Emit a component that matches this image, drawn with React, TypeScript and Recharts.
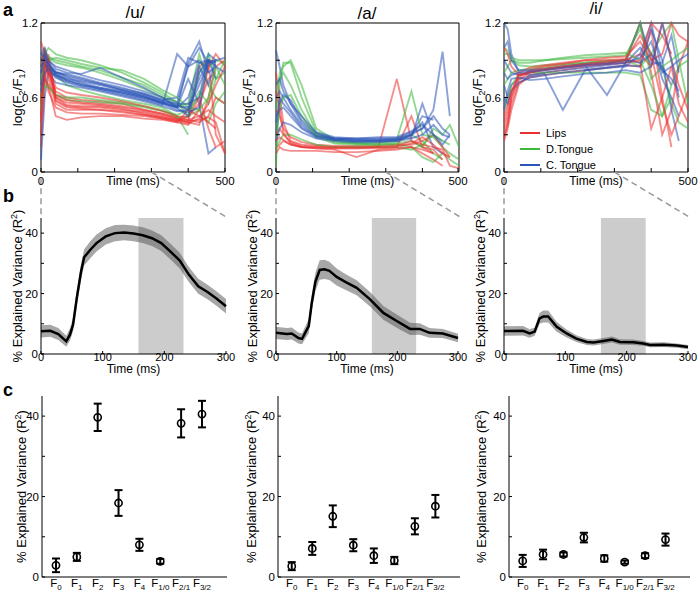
import React from 'react';
import {
  LineChart,
  Line,
  XAxis,
  YAxis,
  ReferenceArea,
  ReferenceLine,
  Legend,
  ComposedChart,
  Area,
  ScatterChart,
  Scatter,
  ErrorBar,
} from 'recharts';

const FONT = '"Liberation Sans", Arial, sans-serif';

const LIPS = '#ec2f2f';
const DORSAL = '#3db83d';
const CORONAL = '#2b56b8';

// ---- panel a: log(F2/F1) trajectories, sampled at these times (ms)
const T = [0, 10, 20, 40, 70, 110, 160, 220, 280, 330, 370, 400, 430, 455, 475, 500];

type Traj = (number | null)[];

const uLips: Traj[] = [
  [1.05, 0.95, 0.8, 0.65, 0.6, 0.58, 0.57, 0.55, 0.5, 0.47, 0.44, 0.42, 0.45, 0.5, 0.45, 0.4],
  [0.3, 0.85, 0.9, 0.6, 0.56, 0.55, 0.54, 0.52, 0.49, 0.46, 0.43, 0.4, 0.85, 0.9, 0.3, 0.15],
  [0.2, 0.7, 0.95, 0.58, 0.53, 0.52, 0.52, 0.5, 0.48, 0.45, 0.42, 0.4, 0.38, 0.6, 0.85, 0.9],
  [0.7, 0.9, 0.75, 0.55, 0.5, 0.5, 0.5, 0.49, 0.46, 0.44, 0.41, 0.45, 0.55, 0.75, 0.8, null],
  [0.45, 0.8, 0.65, 0.52, 0.48, 0.47, 0.47, 0.46, 0.45, 0.43, 0.4, 0.38, 0.5, 0.85, 0.95, 0.85],
  [0.9, 1.0, 0.85, 0.68, 0.64, 0.62, 0.6, 0.57, 0.53, 0.49, 0.45, 0.44, 0.6, 0.35, 0.2, 0.25],
  [0.6, 0.75, 0.7, 0.45, 0.42, 0.44, 0.45, 0.45, 0.43, 0.42, 0.4, 0.5, 0.45, 0.4, 0.35, null],
  [0.85, 0.95, 0.9, 0.62, 0.58, 0.56, 0.55, 0.53, 0.5, 0.47, 0.43, 0.42, 0.4, 0.45, 0.6, 0.55],
  [0.55, 0.85, 0.8, 0.6, 0.54, 0.53, 0.53, 0.51, 0.47, 0.44, 0.42, 0.41, 0.42, 0.44, 0.4, 0.15],
  [0.4, 0.9, 0.85, 0.57, 0.52, 0.51, 0.5, 0.48, 0.46, 0.43, 0.41, 0.39, 0.43, 0.55, 0.7, 0.85],
];
const uDorsal: Traj[] = [
  [0.85, 0.95, 1.0, 0.95, 0.92, 0.9, 0.86, 0.8, 0.72, 0.64, 0.56, 0.5, 0.6, 0.85, 0.9, 0.88],
  [0.7, 0.9, 0.92, 0.88, 0.86, 0.84, 0.8, 0.74, 0.67, 0.6, 0.53, 0.55, 0.95, 0.7, 0.6, 0.55],
  [0.5, 0.8, 0.85, 0.78, 0.7, 0.66, 0.62, 0.58, 0.55, 0.52, 0.45, 0.3, null, null, null, null],
  [0.6, 0.75, 0.7, 0.62, 0.58, 0.57, 0.56, 0.55, 0.52, 0.49, 0.46, 0.5, 0.8, 0.95, 0.75, 0.8],
  [0.9, 0.98, 0.93, 0.9, 0.88, 0.85, 0.82, 0.76, 0.7, 0.62, 0.56, 0.45, 0.5, 0.4, 0.55, 0.65],
  [0.55, 0.7, 0.68, 0.62, 0.6, 0.6, 0.58, 0.56, 0.53, 0.5, 0.44, 0.45, 0.65, 0.55, 0.75, 0.9],
  [0.75, 0.88, 0.9, 0.92, 0.9, 0.87, 0.84, 0.82, 0.75, 0.66, 0.6, 0.52, 0.5, 0.6, 0.85, 0.7],
];
const uCoronal: Traj[] = [
  [0.75, 0.95, 0.9, 0.85, 0.82, 0.78, 0.74, 0.7, 0.65, 0.6, 0.56, 0.85, 1.0, 0.88, 0.9, null],
  [0.9, 0.92, 0.85, 0.8, 0.76, 0.72, 0.68, 0.64, 0.6, 0.56, 0.52, 0.6, 0.88, 0.85, null, null],
  [0.1, 0.6, 0.8, 0.78, 0.74, 0.71, 0.67, 0.63, 0.59, 0.55, 0.52, 0.75, 0.55, 0.15, 0.2, null],
  [0.85, 0.9, 0.82, 0.76, 0.72, 0.69, 0.66, 0.62, 0.58, 0.54, 0.95, 0.85, 0.9, 0.8, 0.85, null],
  [0.8, 0.88, 0.8, 0.72, 0.7, 0.68, 0.65, 0.61, 0.57, 0.53, 0.49, 0.5, 0.7, 0.88, 0.9, 0.92],
  [0.7, 0.85, 0.86, 0.8, 0.79, 0.76, 0.72, 0.68, 0.63, 0.58, 0.6, 0.92, 0.88, 0.9, 0.75, null],
  [0.95, 1.0, 0.9, 0.83, 0.8, 0.79, 0.84, 0.76, 0.68, 0.6, 0.52, 0.45, 0.8, 0.9, 0.86, null],
  [0.85, 0.9, 0.84, 0.78, 0.75, 0.73, 0.7, 0.66, 0.62, 0.57, 0.55, 0.55, 0.6, 0.95, 0.9, null],
  [0.8, 0.92, 0.87, 0.81, 0.77, 0.74, 0.71, 0.67, 0.63, 0.58, 0.54, 0.5, 0.75, 0.9, 0.88, null],
  [0.9, 0.96, 0.88, 0.79, 0.74, 0.7, 0.67, 0.64, 0.6, 0.56, 0.53, 0.52, 0.85, 0.7, 0.9, null],
  [0.65, 0.8, 0.83, 0.77, 0.73, 0.7, 0.68, 0.65, 0.61, 0.56, 0.52, 0.88, 1.05, 0.8, null, null],
  [0.95, 0.93, 0.86, 0.8, 0.78, 0.75, 0.71, 0.66, 0.61, 0.55, 0.5, 0.48, 0.52, 0.9, 0.85, 0.8],
];

const aLips: Traj[] = [
  [0.8, 0.6, 0.4, 0.25, 0.22, 0.21, 0.2, 0.2, 0.2, 0.75, 0.25, 0.2, 0.15, null, null, null],
  [0.2, 0.22, 0.25, 0.22, 0.2, 0.19, 0.19, 0.19, 0.19, 0.2, 0.45, 0.2, 0.18, 0.1, null, null],
  [0.5, 0.45, 0.35, 0.28, 0.24, 0.22, 0.21, 0.21, 0.21, 0.22, 0.22, 0.25, 0.3, 0.2, 0.12, null],
  [0.15, 0.2, 0.18, 0.17, 0.17, 0.17, 0.16, 0.16, 0.17, 0.18, 0.2, 0.15, 0.1, 0.05, null, null],
  [0.3, 0.35, 0.3, 0.24, 0.21, 0.2, 0.2, 0.2, 0.2, 0.21, 0.25, 0.22, 0.2, 0.18, 0.05, 0.03],
  [0.65, 0.5, 0.32, 0.23, 0.2, 0.19, 0.18, 0.12, 0.18, 0.19, 0.2, 0.18, 0.15, null, null, null],
  [0.25, 0.28, 0.26, 0.22, 0.2, 0.2, 0.19, 0.19, 0.2, 0.2, 0.23, 0.28, 0.22, 0.15, 0.12, null],
];
const aDorsal: Traj[] = [
  [0.05, 0.7, 0.88, 0.88, 0.6, 0.32, 0.25, 0.23, 0.23, 0.24, 0.3, 0.25, 0.15, 0.1, null, null],
  [0.5, 0.8, 0.85, 0.9, 0.7, 0.35, 0.26, 0.24, 0.24, 0.26, 0.65, 0.3, 0.28, 0.2, 0.15, 0.1],
  [0.7, 0.75, 0.8, 0.7, 0.5, 0.3, 0.24, 0.23, 0.22, 0.23, 0.25, 0.2, 0.35, 0.3, 0.38, 0.2],
  [0.3, 0.5, 0.6, 0.62, 0.45, 0.28, 0.23, 0.22, 0.22, 0.22, 0.2, 0.12, 0.08, 0.15, 0.1, 0.05],
  [0.2, 0.25, 0.3, 0.3, 0.26, 0.22, 0.2, 0.2, 0.2, 0.2, 0.18, 0.22, 0.3, 0.25, 0.22, null],
];
const aCoronal: Traj[] = [
  [0.98, 0.85, 0.7, 0.55, 0.4, 0.3, 0.27, 0.26, 0.26, 0.27, 0.3, 0.45, 0.42, null, null, null],
  [0.6, 0.65, 0.6, 0.5, 0.38, 0.29, 0.26, 0.25, 0.25, 0.26, 0.3, 0.35, 0.5, 0.97, 0.45, null],
  [0.3, 0.55, 0.62, 0.58, 0.42, 0.31, 0.27, 0.26, 0.26, 0.26, 0.28, 0.55, 0.3, 0.25, null, null],
  [0.45, 0.5, 0.52, 0.45, 0.35, 0.28, 0.26, 0.25, 0.25, 0.25, 0.3, 0.4, 0.2, 0.15, null, null],
  [0.7, 0.75, 0.65, 0.55, 0.45, 0.32, 0.28, 0.27, 0.27, 0.27, 0.32, 0.35, 0.45, 0.35, 0.3, null],
  [0.25, 0.35, 0.4, 0.38, 0.32, 0.27, 0.25, 0.24, 0.24, 0.25, 0.27, 0.3, 0.38, 0.3, 0.28, null],
  [0.4, 0.6, 0.55, 0.48, 0.36, 0.29, 0.27, 0.27, 0.28, 0.28, 0.33, 0.38, 0.3, 0.22, 0.3, null],
];

const iLips: Traj[] = [
  [0.25, 0.35, 0.5, 0.7, 0.78, 0.8, 0.82, 0.85, 0.87, 0.9, 1.2, 0.8, 0.3, 0.5, 0.85, 1.05],
  [0.3, 0.4, 0.55, 0.72, 0.76, 0.78, 0.8, 0.82, 0.84, 0.86, 0.85, 1.15, 0.6, 0.2, null, null],
  [0.35, 0.45, 0.6, 0.74, 0.8, 0.83, 0.85, 0.87, 0.88, 0.9, 0.95, 0.85, 1.2, 0.9, 0.7, 0.5],
  [0.45, 0.55, 0.65, 0.76, 0.82, 0.85, 0.87, 0.9, 0.92, 0.93, 1.05, 0.9, 0.95, 1.2, 1.1, 1.05],
  [0.28, 0.38, 0.6, 0.8, 0.84, 0.86, 0.88, 0.9, 0.9, 0.91, 0.88, 0.35, 0.6, 0.85, 0.55, 0.4],
  [1.0, 0.95, 0.85, 0.78, 0.8, 0.82, 0.84, 0.86, 0.87, 0.88, 0.9, 1.2, 1.1, 0.95, null, null],
  [0.4, 0.5, 0.65, 0.78, 0.81, 0.83, 0.85, 0.87, 0.89, 0.9, 1.1, 0.95, 0.55, 0.3, 0.45, 0.65],
];
const iDorsal: Traj[] = [
  [0.95, 0.95, 0.9, 0.88, 0.88, 0.9, 0.91, 0.92, 0.93, 0.94, 1.15, 0.95, 0.85, 0.55, 0.4, 0.35],
  [0.8, 0.85, 0.9, 0.86, 0.85, 0.86, 0.87, 0.88, 0.9, 0.9, 0.85, 0.95, 1.1, 1.2, 0.9, 0.55],
  [0.5, 0.6, 0.7, 0.78, 0.8, 0.8, 0.8, 0.8, 0.8, 0.8, 0.78, 0.5, 0.45, 0.7, 0.85, 0.9],
  [0.7, 0.75, 0.8, 0.82, 0.83, 0.84, 0.86, 0.88, 0.89, 0.9, 1.2, 0.75, 0.85, 0.9, 0.95, 1.0],
  [1.0, 0.98, 0.92, 0.9, 0.9, 0.9, 0.92, 0.94, 0.95, 0.96, 0.9, 0.7, 0.45, 0.6, null, null],
];
const iCoronal: Traj[] = [
  [1.2, 1.15, 0.95, 0.8, 0.78, 0.8, 0.82, 0.84, 0.86, 0.88, 1.2, 0.9, 0.85, 0.7, null, null],
  [0.7, 0.6, 0.7, 0.75, 0.77, 0.79, 0.5, 0.82, 0.84, 0.86, 0.85, 1.15, 0.9, 0.5, 0.25, null],
  [0.9, 0.85, 0.8, 0.78, 0.8, 0.82, 0.84, 0.86, 0.62, 0.88, 1.0, 0.87, 0.88, 1.1, 0.8, null],
  [0.6, 0.55, 0.65, 0.72, 0.76, 0.78, 0.8, 0.82, 0.84, 0.85, 0.95, 1.2, 0.8, 0.85, 0.9, 0.95],
  [1.0, 1.05, 0.9, 0.82, 0.82, 0.83, 0.85, 0.87, 0.88, 0.9, 0.88, 0.95, 0.82, 0.75, 0.65, null],
  [0.5, 0.65, 0.75, 0.76, 0.74, 0.75, 0.77, 0.79, 0.8, 0.82, 0.8, 0.85, 1.2, 0.9, 0.6, null],
  [0.8, 0.75, 0.78, 0.8, 0.81, 0.82, 0.84, 0.86, 0.87, 0.88, 0.92, 1.05, 0.75, 0.6, 0.45, null],
];

// ---- panel b: explained variance over time (mean and half-width of the band)
const bTimeU = [0, 15, 28, 41, 47, 52, 58, 65, 70, 80, 90, 105, 120, 135, 150, 165, 180, 195, 210, 225, 240, 255, 270, 285, 300];
const bMeanU = [7.5, 7.7, 6.6, 4.2, 6.4, 9.7, 18.5, 27.3, 32, 34.5, 36.7, 38.9, 40, 40.2, 39.9, 39.3, 38.3, 36.7, 33.9, 30.9, 26.2, 22.4, 20.5, 18.3, 15.8];
const bErrU = [2, 2, 2, 1.8, 2, 2.2, 2.5, 2.6, 2.7, 2.8, 2.8, 2.7, 2.7, 2.6, 2.6, 2.6, 2.6, 2.6, 2.6, 2.6, 2.5, 2.5, 2.4, 2.4, 2.4];

const bTimeA = [0, 18, 26, 37, 43, 48, 54, 59, 65, 72, 80, 88, 100, 115, 133, 155, 177, 199, 221, 237, 253, 275, 300];
const bMeanA = [7, 6.6, 6.8, 5.3, 5, 7, 9.2, 17, 24, 27.8, 28, 27.5, 25.5, 23.8, 21.9, 18.1, 13.6, 10.9, 8.3, 8.3, 7, 6.8, 5.3];
const bErrA = [2, 2, 2, 1.8, 1.8, 2, 2.3, 2.6, 3, 3.2, 3.2, 3, 2.8, 2.6, 2.5, 2.4, 2.3, 2.2, 2, 1.9, 1.6, 1.5, 1.4];

const bTimeI = [0, 31, 42, 50, 58, 64, 72, 86, 102, 118, 135, 146, 162, 176, 189, 211, 227, 238, 260, 282, 300];
const bMeanI = [7.6, 7.7, 6.8, 7.4, 11.8, 12.4, 12.4, 9, 6.8, 5.1, 4, 3.8, 4.3, 4.8, 4, 3.9, 3.5, 3, 3.1, 2.8, 2.3];
const bErrI = [1.6, 1.6, 1.4, 1.4, 1.8, 2, 2, 1.6, 1.3, 1.1, 1, 1, 1, 1, 0.9, 0.9, 0.8, 0.8, 0.8, 0.7, 0.7];

const bWindow = [158, 231];

// ---- panel c: explained variance per acoustic feature
const features = ['0', '1', '2', '3', '4', '1/0', '2/1', '3/2'];
const cMeanU = [2.9, 5.0, 39.7, 18.4, 8.0, 3.9, 38.2, 40.5];
const cErrU = [1.7, 1.0, 3.4, 3.2, 1.5, 0.6, 3.5, 3.3];
const cMeanA = [2.7, 7.1, 15.1, 7.9, 5.3, 4.1, 12.6, 17.6];
const cErrA = [1.0, 1.6, 2.7, 1.5, 1.8, 0.9, 2.0, 2.8];
const cMeanI = [4.0, 5.6, 5.6, 9.8, 4.6, 3.7, 5.3, 9.3];
const cErrI = [1.5, 1.2, 0.5, 1.2, 0.8, 0.4, 0.6, 1.5];

const txt = { fontFamily: FONT, fill: '#000' };

// inward tick marks with optional labels
function makeTick(side: 'bottom' | 'left' | 'top' | 'right', labelled: number[], len = 4) {
  return (props: any) => {
    const { x, y, payload } = props;
    const v = payload.value;
    const show = labelled.includes(v);
    if (side === 'bottom') {
      return (
        <g>
          <line x1={x} y1={y} x2={x} y2={y - len} stroke="#000" />
          {show && <text x={x} y={y + 13} textAnchor="middle" fontSize={11.5} {...txt}>{v}</text>}
        </g>
      );
    }
    if (side === 'left') {
      return (
        <g>
          <line x1={x} y1={y} x2={x + len} y2={y} stroke="#000" />
          {show && <text x={x - 3} y={y + 4} textAnchor="end" fontSize={11.5} {...txt}>{v}</text>}
        </g>
      );
    }
    if (side === 'top') return <line x1={x} y1={y} x2={x} y2={y + len} stroke="#000" />;
    return <line x1={x} y1={y} x2={x - len} y2={y} stroke="#000" />;
  };
}

const featureTick = (props: any) => {
  const { x, y, payload } = props;
  const sub = features[payload.value - 1];
  return (
    <text x={x} y={y + 10} textAnchor="middle" fontSize={11.5} {...txt}>
      F<tspan dy={2.5} fontSize={8}>{sub}</tspan>
    </text>
  );
};

const logLabel = (props: any) => {
  const { viewBox } = props;
  const x = 17;
  const y = viewBox.y + viewBox.height / 2;
  return (
    <text transform={`rotate(-90 ${x} ${y})`} x={x} y={y + 5} textAnchor="middle" fontSize={13.5} {...txt}>
      log(F<tspan dy={3} fontSize={9}>2</tspan>
      <tspan dy={-3}>/F</tspan>
      <tspan dy={3} fontSize={9}>1</tspan>
      <tspan dy={-3}>)</tspan>
    </text>
  );
};

const varianceLabel = (cx: number) => (props: any) => {
  const { viewBox } = props;
  const y = viewBox.y + viewBox.height / 2;
  return (
    <text transform={`rotate(-90 ${cx} ${y})`} x={cx} y={y + 5} textAnchor="middle" fontSize={13} {...txt}>
      % Explained Variance (R<tspan dy={-5} fontSize={9}>2</tspan>
      <tspan dy={5}>)</tspan>
    </text>
  );
};

const LegendBox = () => (
  <div style={{ fontFamily: FONT, fontSize: 11, lineHeight: '16px' }}>
    {[
      ['Lips', LIPS],
      ['D.Tongue', DORSAL],
      ['C. Tongue', CORONAL],
    ].map(([name, color]) => (
      <div key={name} style={{ display: 'flex', alignItems: 'center' }}>
        <span style={{ display: 'inline-block', width: 20, height: 2.5, background: color, marginRight: 6 }} />
        {name}
      </div>
    ))}
  </div>
);

function TrajPanel({ lips, dorsal, coronal, axisW, right, legend }: {
  lips: Traj[]; dorsal: Traj[]; coronal: Traj[]; axisW: number; right: number; legend?: boolean;
}) {
  const series: { key: string; color: string; vals: Traj }[] = [];
  const n = Math.max(lips.length, dorsal.length, coronal.length);
  for (let i = 0; i < n; i++) {
    if (dorsal[i]) series.push({ key: `d${i}`, color: DORSAL, vals: dorsal[i] });
    if (lips[i]) series.push({ key: `l${i}`, color: LIPS, vals: lips[i] });
    if (coronal[i]) series.push({ key: `c${i}`, color: CORONAL, vals: coronal[i] });
  }
  return (
    <LineChart width={240} height={225} margin={{ top: 23, right, bottom: 33, left: 0 }}>
      <XAxis
        dataKey="t"
        type="number"
        domain={[0, 500]}
        ticks={[0, 100, 200, 300, 400, 500]}
        height={20}
        tickSize={0}
        tickMargin={0}
        axisLine={false}
        tick={makeTick('bottom', [0, 500])}
        label={{ value: 'Time (ms)', position: 'insideTop', offset: 4, fontSize: 12, fill: '#000', fontFamily: FONT }}
      />
      <XAxis xAxisId="top" orientation="top" type="number" domain={[0, 500]} ticks={[100, 200, 300, 400]} height={0} tickSize={0} tickMargin={0} axisLine={false} tick={makeTick('top', [])} />
      <YAxis
        type="number"
        domain={[0, 1.2]}
        ticks={[0, 0.3, 0.6, 0.9, 1.2]}
        width={axisW}
        tickSize={0}
        tickMargin={0}
        axisLine={false}
        tick={makeTick('left', [0, 0.6, 1.2])}
        label={logLabel}
      />
      <YAxis yAxisId="right" orientation="right" type="number" domain={[0, 1.2]} ticks={[0.3, 0.6, 0.9]} width={0} tickSize={0} tickMargin={0} axisLine={false} tick={makeTick('right', [])} />
      {series.map((s) => (
        <Line
          key={s.key}
          data={T.map((t, i) => ({ t, v: s.vals[i] }))}
          dataKey="v"
          type="linear"
          stroke={s.color}
          strokeOpacity={0.55}
          strokeWidth={1.9}
          dot={false}
          activeDot={false}
          isAnimationActive={false}
        />
      ))}
      <ReferenceArea x1={0} x2={500} y1={0} y2={1.2} fill="none" stroke="#000" strokeWidth={1} ifOverflow="visible" />
      <ReferenceLine segment={[{ x: 0, y: -0.05 }, { x: 0, y: -0.35 }]} stroke="#999" strokeWidth={1.5} strokeDasharray="6 4" ifOverflow="visible" />
      <ReferenceLine segment={[{ x: 300, y: 0 }, { x: 502, y: -0.36 }]} stroke="#999" strokeWidth={1.5} strokeDasharray="6 4" ifOverflow="visible" />
      {legend && (
        <Legend
          layout="vertical"
          align="center"
          verticalAlign="middle"
          content={() => <LegendBox />}
          wrapperStyle={{ left: 60, top: 125, width: 'auto' }}
        />
      )}
    </LineChart>
  );
}

function VariancePanel({ times, means, errs, axisW, right }: {
  times: number[]; means: number[]; errs: number[]; axisW: number; right: number;
}) {
  const rows = times.map((t, i) => ({ t, mean: means[i], band: [means[i] - errs[i], means[i] + errs[i]] }));
  return (
    <ComposedChart width={240} height={176} data={rows} margin={{ top: 13, right, bottom: 4, left: 0 }}>
      <ReferenceArea x1={bWindow[0]} x2={bWindow[1]} y1={0} y2={45} fill="#9a9a9a" fillOpacity={0.5} stroke="none" />
      <XAxis
        dataKey="t"
        type="number"
        domain={[0, 300]}
        ticks={[0, 100, 200, 300]}
        height={23}
        tickSize={0}
        tickMargin={0}
        stroke="#000"
        tick={(p: any) => (
          <g>
            <line x1={p.x} y1={p.y} x2={p.x} y2={p.y - 3} stroke="#000" />
            <text x={p.x} y={p.y + 7} textAnchor="middle" fontSize={11} {...txt}>{p.payload.value}</text>
          </g>
        )}
        label={{ value: 'Time (ms)', position: 'insideTop', offset: 10, fontSize: 12, fill: '#000', fontFamily: FONT }}
      />
      <YAxis
        type="number"
        domain={[0, 45]}
        ticks={[0, 10, 20, 30, 40]}
        width={axisW}
        tickSize={0}
        tickMargin={0}
        stroke="#000"
        tick={makeTick('left', [0, 20, 40], 3)}
        label={varianceLabel(axisW - 24)}
      />
      <Area dataKey="band" type="linear" fill="#505050" fillOpacity={0.5} stroke="none" isAnimationActive={false} activeDot={false} />
      <Line dataKey="mean" type="linear" stroke="#000" strokeWidth={2.5} dot={false} activeDot={false} isAnimationActive={false} />
    </ComposedChart>
  );
}

const OpenCircle = (props: any) => (
  <circle cx={props.cx} cy={props.cy} r={3.6} fill="none" stroke="#000" strokeWidth={1.6} />
);

function FeaturePanel({ means, errs, axisW, right }: {
  means: number[]; errs: number[]; axisW: number; right: number;
}) {
  const rows = means.map((m, i) => ({ x: i + 1, y: m, err: errs[i] }));
  return (
    <ScatterChart width={240} height={213} margin={{ top: 16, right, bottom: 0, left: 0 }}>
      <XAxis
        dataKey="x"
        type="number"
        domain={[0.33, 9.2]}
        ticks={[1, 2, 3, 4, 5, 6, 7, 8]}
        height={16}
        tickSize={0}
        tickMargin={0}
        stroke="#000"
        tick={featureTick}
      />
      <YAxis
        dataKey="y"
        type="number"
        domain={[0, 45]}
        ticks={[0, 10, 20, 30, 40]}
        width={axisW}
        tickSize={0}
        tickMargin={0}
        stroke="#000"
        tick={makeTick('left', [0, 20, 40], 3)}
        label={varianceLabel(21)}
      />
      <Scatter data={rows} shape={OpenCircle} isAnimationActive={false}>
        <ErrorBar dataKey="err" direction="y" width={4} stroke="#000" strokeWidth={2} isAnimationActive={false} />
      </Scatter>
    </ScatterChart>
  );
}

const place = (left: number, top: number): React.CSSProperties => ({ position: 'absolute', left, top });

const letter: React.CSSProperties = { position: 'absolute', fontFamily: FONT, fontWeight: 'bold', fontSize: 18, lineHeight: '18px' };
const title: React.CSSProperties = { position: 'absolute', fontFamily: FONT, fontSize: 17, lineHeight: '18px', transform: 'translateX(-50%)' };

export default function App() {
  return (
    <div style={{ position: 'absolute', left: 0, top: 0, width: 700, height: 593, background: '#fff', overflow: 'hidden' }}>
      <div style={place(0, 0)}>
        <TrajPanel lips={uLips} dorsal={uDorsal} coronal={uCoronal} axisW={41} right={15} />
      </div>
      <div style={place(230, 0)}>
        <TrajPanel lips={aLips} dorsal={aDorsal} coronal={aCoronal} axisW={46} right={11} />
      </div>
      <div style={place(460, 0)}>
        <TrajPanel lips={iLips} dorsal={iDorsal} coronal={iCoronal} axisW={44} right={12} legend />
      </div>

      <div style={place(0, 205)}>
        <VariancePanel times={bTimeU} means={bMeanU} errs={bErrU} axisW={41} right={14} />
      </div>
      <div style={place(230, 205)}>
        <VariancePanel times={bTimeA} means={bMeanA} errs={bErrA} axisW={46} right={12} />
      </div>
      <div style={place(460, 205)}>
        <VariancePanel times={bTimeI} means={bMeanI} errs={bErrI} axisW={44} right={12} />
      </div>

      <div style={place(0, 380)}>
        <FeaturePanel means={cMeanU} errs={cErrU} axisW={42} right={13} />
      </div>
      <div style={place(230, 380)}>
        <FeaturePanel means={cMeanA} errs={cErrA} axisW={48} right={10} />
      </div>
      <div style={place(460, 380)}>
        <FeaturePanel means={cMeanI} errs={cErrI} axisW={49} right={10} />
      </div>

      <div style={{ ...letter, left: 3, top: 1 }}>a</div>
      <div style={{ ...letter, left: 3, top: 187 }}>b</div>
      <div style={{ ...letter, left: 3, top: 381 }}>c</div>
      <div style={{ ...title, left: 135, top: 4 }}>/u/</div>
      <div style={{ ...title, left: 367, top: 5 }}>/a/</div>
      <div style={{ ...title, left: 596, top: 0 }}>/i/</div>
    </div>
  );
}
